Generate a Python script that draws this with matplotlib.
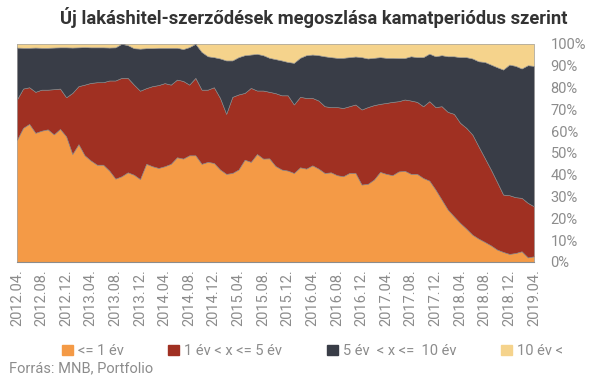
import numpy as np
import matplotlib.pyplot as plt
from matplotlib.patches import Patch

# Monthly data, 2012.04 - 2019.04 (cumulative shares, %)
upto_1y = [56, 61.5, 63.3, 59.2, 60.2, 60.8, 58.5, 61, 57.6, 49.5, 54, 48.9, 46.5, 44.6, 44.6, 41.9,
           38.2, 39.3, 41.1, 40, 38, 45, 43.9, 43.1, 43.9, 45, 48, 47.4, 48.9, 48.9, 45, 45.9,
           45.4, 42.4, 40.4, 40.8, 42.4, 46.9, 45.9, 49.5, 47.4, 47.5, 44, 42.4, 41.9, 40.8, 43.4, 42.8,
           44.3, 42.8, 40.8, 41.1, 39.8, 39.3, 40.8, 40.8, 35.5, 35.8, 37.8, 41.3, 40.4, 39.8, 41.5, 41.8,
           40.4, 40.4, 38.5, 37.3, 33.2, 28.6, 24, 20.9, 17.9, 15.3, 12.5, 10.7, 9.2, 7.6, 5.7, 4.6,
           3.7, 4.1, 4.9, 2.1, 2.6]
upto_5y = [74.5, 79.5, 80.1, 78, 79, 79, 79.2, 79.5, 75.5, 77.5, 80.6, 81.3, 82.1, 82.4, 82.4, 83.2,
           83.2, 84.4, 84.4, 81.3, 78.5, 79.7, 80.6, 81.1, 82, 81.3, 83.6, 83, 81.3, 84.4, 79, 79,
           80.1, 75.2, 67.9, 75.7, 76.8, 77.5, 79.8, 78.6, 78.6, 78, 77.4, 76.4, 76.4, 72.2, 75.7, 75.2,
           75.2, 74, 71.4, 71, 71, 70.6, 71.4, 72.2, 69.9, 71, 71.9, 72.5, 72.9, 73.4, 73.7, 74.5,
           74, 73.4, 71.4, 73.7, 71, 71.4, 68.8, 67.9, 63.8, 61.5, 58.4, 53, 47.7, 42.4, 36.7, 30.9,
           30.6, 29.7, 29.4, 27.1, 25.5]
upto_10y = [98.3, 98.2, 98.2, 98.3, 98.2, 98.2, 98.3, 98.4, 98.4, 98.3, 98.4, 98.5, 98.4, 98.4, 98.4, 98.3,
            98.4, 100, 99.4, 98, 97.8, 98, 98, 98.2, 98.2, 98.2, 98.2, 97.6, 98.5, 100, 96.3, 94.3,
            93.9, 93.3, 92.4, 92.4, 93.9, 94.8, 95.1, 95.4, 94.8, 93.6, 93, 92.4, 91.7, 91.3, 93.6, 94.8,
            95.1, 94.8, 94.3, 93.9, 93.6, 93.6, 93.9, 94.2, 93.9, 93.3, 93.6, 93.9, 93.6, 93.6, 93.5, 93.5,
            94.3, 93.9, 93.9, 95.5, 94.3, 94.8, 94.3, 94.3, 93.9, 93.9, 93.3, 92, 91.7, 90.5, 89.3, 88.2,
            90.5, 89.9, 88.7, 90.2, 89.9]

tick_labels = ['2012.04.', '2012.08.', '2012.12.', '2013.04.', '2013.08.', '2013.12.', '2014.04.',
               '2014.08.', '2014.12.', '2015.04.', '2015.08.', '2015.12.', '2016.04.', '2016.08.',
               '2016.12.', '2017.04.', '2017.08.', '2017.12.', '2018.04.', '2018.08.', '2018.12.',
               '2019.04.']
series_names = ['<= 1 év', '1 év < x <= 5 év', '5 év  < x <=  10 év', '10 év <']
colors = ['#F49A46', '#A03022', '#393D47', '#F5D38C']

# shares of each category from the cumulative readings
cum = np.array([np.zeros(len(upto_1y)), upto_1y, upto_5y, upto_10y, np.full(len(upto_1y), 100.0)])
shares = np.diff(cum, axis=0)
x = np.arange(len(upto_1y))

plt.rcParams['font.family'] = ['Roboto', 'DejaVu Sans']
fig = plt.figure(figsize=(6.04, 3.78), dpi=100)
ax = fig.add_axes([0.028, 0.307, 0.856, 0.577])

ax.stackplot(x, shares, colors=colors, edgecolor='#8a8a8a', linewidth=0.4)

ax.set_xlim(0, x[-1])
ax.set_ylim(0, 100)
ax.set_xticks(x[::4])
ax.set_xticklabels(tick_labels, rotation=90, fontsize=10.5, color='#8c8c8c')
ax.set_yticks(range(0, 101, 10))
ax.set_yticklabels([f'{v}%' for v in range(0, 101, 10)], fontsize=10.5, color='#8c8c8c')
ax.yaxis.tick_right()
ax.tick_params(axis='both', length=0)
ax.tick_params(axis='y', pad=12)
ax.tick_params(axis='x', pad=5)
for s in ['top', 'left', 'right']:
    ax.spines[s].set_visible(False)
ax.spines['bottom'].set_color('#8c8c8c')

fig.text(0.52, 0.955, 'Új lakáshitel-szerződések megoszlása kamatperiódus szerint',
         ha='center', va='center', fontsize=13.2, fontweight='bold', color='#333333')

handles = [Patch(color=c) for c in colors]
fig.legend(handles, series_names, loc='center left', bbox_to_anchor=(62 / 604, 1 - 351 / 378), ncol=4,
           frameon=False, fontsize=10.5, handlelength=0.75, handleheight=0.75, handletextpad=0.35,
           columnspacing=3.05, borderpad=0, borderaxespad=0, labelcolor='#8c8c8c')

fig.text(0.015, 0.025, 'Forrás: MNB, Portfolio', fontsize=10.5, color='#8c8c8c', va='center')

fig.savefig('out.png', dpi=100)
